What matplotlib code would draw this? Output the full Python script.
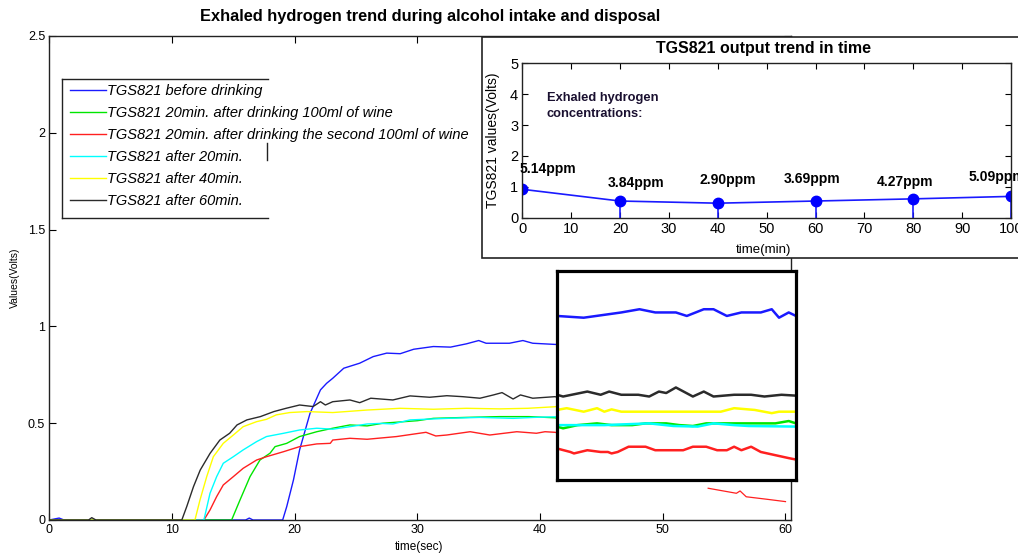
import matplotlib
matplotlib.use("Agg")
import matplotlib.pyplot as plt
from matplotlib.patches import Rectangle
from matplotlib.lines import Line2D

plt.rcParams['font.family'] = ['Liberation Sans', 'DejaVu Sans']

# ---------------- data (main plot, time in sec, values in Volts) ----------------
labels = ["TGS821 before drinking",
          "TGS821 20min. after drinking 100ml of wine",
          "TGS821 20min. after drinking the second 100ml of wine",
          "TGS821 after 20min.",
          "TGS821 after 40min.",
          "TGS821 after 60min."]
colors = ["#1a1aff", "#00e600", "#ff2020", "#00ffff", "#ffff00", "#2b2b2b"]

blue_t = [0, 0.8, 1.2, 16.0, 16.3, 16.6, 19.02, 19.35, 19.9, 20.4, 21.25, 22.1, 22.6, 23.1, 24.0, 25.3,
          26.4, 27.5, 28.6, 29.7, 31.3, 32.7, 34.0, 35.0, 35.6, 36.7, 37.5, 38.6, 39.4,
          41.2, 43.4, 46.5, 48.0, 49.3, 51.0, 51.9, 53.3, 54.1, 55.2, 56.4, 58.0, 58.9, 59.5, 60.3, 60.9]
blue_v = [0, 0.01, 0, 0, 0.01, 0, 0, 0.069, 0.207, 0.362, 0.551, 0.672, 0.706, 0.732, 0.784, 0.810,
          0.844, 0.862, 0.859, 0.882, 0.896, 0.893, 0.910, 0.927, 0.913, 0.913, 0.913, 0.927, 0.913,
          0.907, 0.901, 0.919, 0.930, 0.919, 0.919, 0.907, 0.930, 0.930, 0.907, 0.919, 0.919, 0.930, 0.901, 0.919, 0.907]

green_t = [0, 14.86, 15.54, 16.36, 17.17, 17.99, 18.4, 19.35, 20.4, 21.8, 23.1, 24.5, 25.9, 27.2, 30.0,
           31.3, 34.0, 36.7, 39.1,
           41.2, 41.7, 42.9, 44.5, 45.7, 47.4, 48.5, 50.2, 51.3, 52.4, 53.5, 56.4, 59.2, 60.3, 60.9]
green_v = [0, 0, 0.103, 0.224, 0.310, 0.345, 0.379, 0.396, 0.431, 0.456, 0.474, 0.491, 0.486, 0.500, 0.513,
           0.525, 0.530, 0.534, 0.534,
           0.528, 0.522, 0.533, 0.539, 0.533, 0.533, 0.539, 0.539, 0.533, 0.530, 0.539, 0.539, 0.539, 0.547, 0.539]

red_t = [0, 12.6, 13.1, 13.64, 14.18, 15.0, 15.8, 16.9, 17.7, 19.1, 20.4, 21.8, 22.9, 23.1, 24.5, 25.9,
         28.3, 30.7, 31.5, 32.4, 34.3, 35.9, 38.1, 39.7, 40.4,
         41.2, 42.3, 42.6, 43.7, 44.8, 45.4, 45.7, 46.2, 47.1, 48.5, 49.3, 51.6, 52.4, 53.5, 54.4, 55.2,
         55.8, 56.4, 57.2, 58.0, 59.2, 60.3, 60.9]
red_v = [0, 0, 0.052, 0.121, 0.181, 0.224, 0.267, 0.310, 0.327, 0.353, 0.379, 0.393, 0.396, 0.413, 0.422, 0.417,
         0.431, 0.453, 0.434, 0.439, 0.456, 0.439, 0.456, 0.448, 0.456,
         0.453, 0.441, 0.436, 0.447, 0.441, 0.441, 0.436, 0.441, 0.459, 0.459, 0.447, 0.447, 0.459, 0.459, 0.447, 0.447,
         0.459, 0.447, 0.459, 0.441, 0.430, 0.420, 0.415]

cyan_t = [0, 12.6, 13.1, 13.64, 14.18, 15.0, 15.8, 16.9, 17.7, 19.1, 20.4, 21.8, 23.1, 24.5, 25.9, 27.0,
          28.0, 29.4, 32.4, 35.1, 37.8, 39.5,
          41.2, 42.3, 45.1, 48.8, 50.8, 52.8, 54.1, 55.8, 57.0, 60.9]
cyan_v = [0, 0, 0.138, 0.224, 0.293, 0.327, 0.362, 0.405, 0.431, 0.448, 0.465, 0.474, 0.469, 0.482, 0.496, 0.499,
          0.496, 0.517, 0.525, 0.530, 0.525, 0.530,
          0.533, 0.533, 0.533, 0.539, 0.530, 0.528, 0.539, 0.533, 0.530, 0.528]

yellow_t = [0, 11.87, 12.28, 12.83, 13.37, 14.18, 15.0, 15.8, 16.9, 17.7, 18.5, 19.6, 21.0, 23.1, 25.9,
            28.6, 31.3, 34.0, 36.7, 39.0,
            41.2, 42.0, 43.4, 44.5, 45.1, 45.7, 46.5, 54.7, 55.8, 57.5, 58.9, 59.5, 60.9]
yellow_v = [0, 0, 0.103, 0.224, 0.327, 0.396, 0.439, 0.482, 0.508, 0.520, 0.543, 0.555, 0.560, 0.555, 0.568,
            0.577, 0.572, 0.577, 0.574, 0.577,
            0.585, 0.591, 0.579, 0.591, 0.579, 0.587, 0.579, 0.579, 0.591, 0.585, 0.574, 0.579, 0.579]

black_t = [0, 3.2, 3.46, 3.8, 10.8, 11.2, 11.75, 12.3, 13.1, 13.9, 14.7, 15.3, 16.1, 17.2, 18.3, 19.3, 20.4,
           21.5, 22.1, 22.5, 23.1, 24.5, 25.3, 26.2, 28.0, 29.4, 31.0, 32.4, 33.7, 35.1, 36.2, 36.9, 37.8,
           38.4, 39.4,
           41.2, 41.7, 43.7, 44.8, 45.5, 46.5, 47.9, 48.8, 49.6, 50.2, 51.0, 52.4, 53.3, 54.1, 55.8, 57.2,
           58.3, 59.7, 60.9]
black_v = [0, 0, 0.012, 0, 0, 0.069, 0.172, 0.258, 0.344, 0.413, 0.448, 0.491, 0.517, 0.534, 0.560, 0.577, 0.594,
           0.586, 0.611, 0.594, 0.611, 0.620, 0.606, 0.629, 0.620, 0.641, 0.634, 0.642, 0.637, 0.629, 0.646, 0.658, 0.625,
           0.646, 0.629,
           0.637, 0.631, 0.648, 0.637, 0.648, 0.637, 0.637, 0.631, 0.648, 0.643, 0.662, 0.631, 0.648, 0.631, 0.637, 0.637,
           0.631, 0.637, 0.634]

# stray red fragment visible below the magnified box
red_frag_t = [53.7, 56.0, 56.3, 56.8, 58.5, 60.0]
red_frag_v = [0.164, 0.138, 0.150, 0.120, 0.107, 0.095]

series_t = [blue_t, green_t, red_t, cyan_t, yellow_t, black_t]
series_v = [blue_v, green_v, red_v, cyan_v, yellow_v, black_v]

# ---------------- data (inset: TGS821 output trend in time) ----------------
inset_time = [0, 20, 40, 60, 80, 100]
inset_volts = [0.92, 0.54, 0.47, 0.54, 0.61, 0.69]
inset_ppm = ["5.14ppm", "3.84ppm", "2.90ppm", "3.69ppm", "4.27ppm", "5.09ppm"]
# label anchor positions (layout)
ppm_x = [-0.5, 23.2, 42.1, 59.3, 78.3, 91.3]
ppm_y = [1.57, 1.13, 1.22, 1.25, 1.16, 1.32]
ppm_ha = ["left", "center", "center", "center", "center", "left"]

# ---------------- figure ----------------
W, H = 1018, 553
fig = plt.figure(figsize=(W / 100, H / 100), dpi=100)


def fx(px):
    return px / W


def fy(py):
    return 1 - py / H


# main axes
ax = fig.add_axes([fx(49.3), fy(520), fx(791) - fx(49.3), fy(36) - fy(520)])
ax.set_zorder(0)
for t, v, c, lab in zip(series_t, series_v, colors, labels):
    ax.plot(t, v, color=c, lw=1.0, label=lab)
ax.plot(red_frag_t, red_frag_v, color=colors[2], lw=0.9)
ax.set_xlim(0, 60.45)
ax.set_ylim(0, 2.5)
ax.set_xticks([0, 10, 20, 30, 40, 50, 60])
ax.set_yticks([0, 0.5, 1, 1.5, 2, 2.5])
ax.set_yticklabels(["0", "0.5", "1", "1.5", "2", "2.5"])
ax.tick_params(direction="in", length=5, width=0.8, labelsize=9, top=True, right=True, pad=3)
for s in ax.spines.values():
    s.set_linewidth(1.0)
    s.set_color("#222222")
fig.text(fx(419), fy(547), "time(sec)", ha="center", va="center", fontsize=8.5)
fig.text(fx(15), fy(278), "Values(Volts)", ha="center", va="center", rotation=90, fontsize=7.5)
fig.text(fx(430), fy(17), "Exhaled hydrogen trend during alcohol intake and disposal",
         ha="center", va="center", fontsize=11.8, fontweight="bold")

leg = ax.legend(loc="upper left", bbox_to_anchor=(fx(70), fy(84)), bbox_transform=fig.transFigure,
                frameon=False, fontsize=10.5, handlelength=2.5, handletextpad=0.05,
                labelspacing=0.55, borderpad=0, borderaxespad=0)
for txt in leg.get_texts():
    txt.set_fontstyle("italic")

# partial legend frame (as drawn in reference)
frame_kw = dict(transform=fig.transFigure, color="#222222", lw=1.0, zorder=0.5)
fig.lines.append(Line2D([fx(62.3), fx(268)], [fy(79.3), fy(79.3)], **frame_kw))
fig.lines.append(Line2D([fx(62.3), fx(62.3)], [fy(79.3), fy(218.3)], **frame_kw))
fig.lines.append(Line2D([fx(62.3), fx(268)], [fy(218.3), fy(218.3)], **frame_kw))
fig.lines.append(Line2D([fx(267), fx(267)], [fy(143), fy(160)], **frame_kw))

# inset frame
fig.patches.append(Rectangle((fx(481.7), fy(258.3)), 0.6, fy(36.7) - fy(258.3),
                             transform=fig.transFigure, facecolor="white", edgecolor="#222222",
                             lw=1.2, zorder=1))

# inset axes
ax2 = fig.add_axes([fx(522.3), fy(217.7), fx(1011) - fx(522.3), fy(63.3) - fy(217.7)])
ax2.set_zorder(2)
ax2.plot(inset_time, inset_volts, color="#1a1aff", lw=1.2)
ax2.vlines(inset_time, 0, inset_volts, color="#1a1aff", lw=1.2)
ax2.plot(inset_time, inset_volts, "o", color="#0000ff", ms=7.5)
ax2.set_xlim(0, 100)
ax2.set_ylim(0, 5)
ax2.set_xticks(range(0, 101, 10))
ax2.set_yticks(range(0, 6))
ax2.tick_params(direction="in", length=4, width=0.8, labelsize=10.5, top=True, right=True, pad=3)
for s in ax2.spines.values():
    s.set_linewidth(1.0)
    s.set_color("#222222")
for x, y, s, ha in zip(ppm_x, ppm_y, inset_ppm, ppm_ha):
    ax2.text(x, y, s, ha=ha, va="center", fontsize=10, fontweight="bold", clip_on=False)
ax2.text(5.0, 3.63, "Exhaled hydrogen\nconcentrations:", ha="left", va="center",
         fontsize=9.3, fontweight="bold", color="#1a1030", linespacing=1.45)
fig.text(fx(763), fy(49), "TGS821 output trend in time", ha="center", va="center",
         fontsize=11.5, fontweight="bold", zorder=3)
fig.text(fx(493), fy(140), "TGS821 values(Volts)", ha="center", va="center", rotation=90,
         fontsize=10, zorder=3)
fig.text(fx(763), fy(250), "time(min)", ha="center", va="center", fontsize=9.5, zorder=3)

# magnified box
ax3 = fig.add_axes([fx(557), fy(480), fx(796) - fx(557), fy(271) - fy(480)])
ax3.set_zorder(3)
for t, v, c in zip(series_t, series_v, colors):
    ax3.plot(t, v, color=c, lw=1.8)
ax3.set_xlim(41.2, 60.9)
ax3.set_ylim(0.345, 1.061)
ax3.set_xticks([])
ax3.set_yticks([])
for s in ax3.spines.values():
    s.set_linewidth(2.3)
    s.set_color("black")

fig.savefig("out.png", dpi=100)
